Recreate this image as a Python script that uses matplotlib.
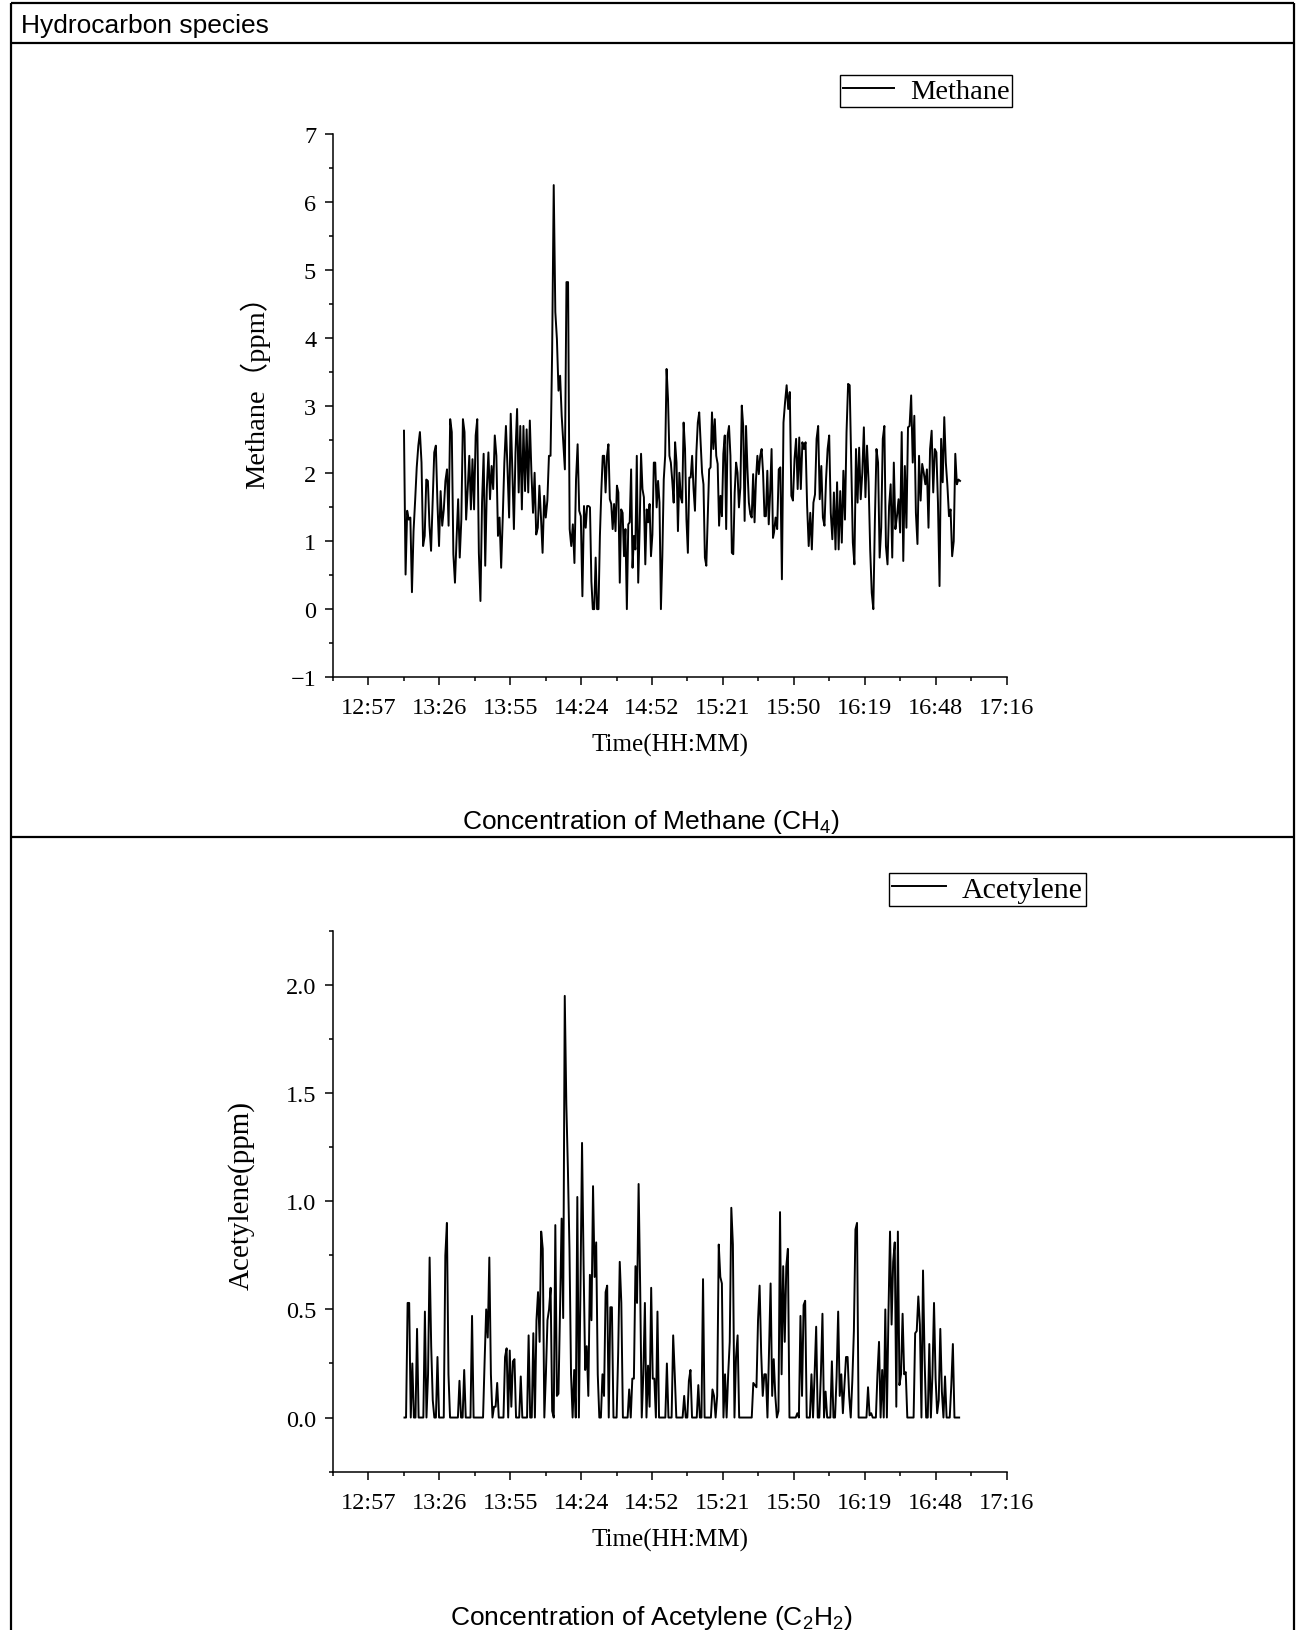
import numpy as np
import matplotlib
matplotlib.use("Agg")
import matplotlib.pyplot as plt
from matplotlib.lines import Line2D
from matplotlib.ticker import FixedLocator, FixedFormatter, MultipleLocator

# ---------------- data ----------------
# Methane (ppm), read in three consecutive stretches of the record
methane_part1 = [
    2.63, 0.51, 1.45, 1.32, 1.35, 0.25, 1.15, 1.6, 2.09, 2.41,
    2.61, 2.16, 0.93, 1.08, 1.91, 1.89, 1.23, 0.86, 1.57, 2.31,
    2.41, 1.57, 0.93, 1.74, 1.23, 1.47, 1.89, 2.06, 1.23, 2.8,
    2.61, 0.81, 0.39, 1.03, 1.62, 0.76, 1.32, 2.8, 2.61, 1.32,
    1.77, 2.26, 1.47, 2.21, 1.47, 2.56, 2.8, 0.83, 0.12, 1.57,
    2.29, 0.64, 1.77, 2.31, 1.62, 2.11, 1.77, 2.56, 2.26, 1.08,
    1.35, 0.61, 1.35, 2.16, 2.7, 2.06, 1.35, 2.88, 2.06, 1.18,
    2.31, 2.95, 1.72, 2.7, 1.47, 2.7, 1.74, 2.65, 1.72, 2.78,
    2.01, 1.42, 2.01, 1.1, 1.2, 1.82, 1.35, 0.83, 1.67, 1.35,
    1.6, 2.26, 2.26, 3.79, 6.25, 4.38, 3.98, 3.22, 3.44, 2.85,
    2.46, 2.06, 4.82, 4.82, 1.18, 0.93, 1.25, 0.68, 1.91, 2.43,
    1.45, 1.37, 0.19, 1.52,
]
methane_part2 = [
    1.2, 1.52, 1.52, 1.5, 0.41, 0.0, 0.0, 0.76, 0.0, 0.0,
    1.08, 1.74, 2.26, 2.26, 1.72, 2.26, 2.43, 1.62, 1.55, 1.18,
    1.55, 1.15, 1.82, 1.72, 0.39, 1.47, 1.42, 0.78, 1.18, 0.0,
    1.25, 1.28, 2.06, 0.61, 1.08, 0.88, 2.26, 0.39, 1.18, 2.29,
    1.77, 1.65, 0.66, 1.47, 1.28, 1.55, 0.78, 1.1, 2.16, 2.16,
    1.5, 1.89, 1.57, 0.0, 0.78, 1.91, 2.26, 3.54, 3.1, 2.26,
    2.16, 1.89, 1.57, 2.46, 2.16, 1.15, 2.01, 1.65, 1.57, 2.75,
    2.36, 1.32, 0.83, 1.94, 1.94, 2.26, 1.77, 1.45, 2.31, 2.75,
    2.9, 2.46, 2.01, 1.84, 0.76, 0.64, 1.37, 2.06, 2.09, 2.9,
    2.36, 2.8, 2.26, 2.14, 1.23, 1.67, 1.37, 2.29, 2.56, 1.18,
    2.56, 2.7, 2.26, 0.83, 0.81, 1.72, 2.16, 2.01, 1.5, 1.79,
    3.0, 2.7, 1.3, 2.7, 2.06, 1.57, 1.4, 1.35, 1.99, 1.28,
    1.91, 2.26, 1.99, 2.26, 2.36, 2.01, 1.37, 1.37, 2.04, 1.25,
    1.72, 2.36, 1.05,
]
methane_part3 = [
    1.13, 1.35, 1.18, 2.06, 2.09, 0.44, 2.75, 3.05, 3.3, 2.95,
    3.2, 1.67, 1.6, 2.21, 2.51, 1.77, 2.53, 1.77, 2.46, 2.36,
    2.46, 1.52, 0.93, 1.42, 0.88, 1.57, 1.69, 2.51, 2.7, 1.62,
    2.11, 1.35, 1.23, 1.91, 2.36, 2.56, 1.42, 1.03, 1.72, 0.88,
    1.87, 0.88, 1.74, 0.98, 2.04, 1.32, 2.61, 3.32, 3.3, 2.16,
    0.98, 0.66, 2.36, 1.57, 2.38, 1.62, 2.01, 2.68, 1.65, 2.41,
    1.87, 0.88, 0.24, 0.0, 1.32, 2.36, 2.16, 0.76, 1.2, 2.51,
    2.7, 0.93, 0.66, 1.52, 1.84, 0.76, 2.16, 1.18, 1.37, 1.62,
    1.13, 2.61, 0.71, 2.11, 1.2, 2.68, 2.7, 3.15, 2.16, 2.85,
    1.42, 0.96, 2.26, 1.6, 2.14, 2.01, 1.84, 2.06, 1.2, 2.36,
    2.63, 1.72, 2.36, 2.31, 1.57, 0.34, 2.51, 1.87, 2.83, 2.16,
    1.82, 1.37, 1.47, 0.78, 1.0, 2.29, 1.84, 1.91, 1.89,
]
# start / end clock time of each stretch
methane_part_times = [("13:12:06", "14:25:11"),
                      ("14:25:53", "15:41:55"),
                      ("15:42:20", "16:57:51")]

acetylene_ppm = [
    0, 0, 0.53, 0.53, 0, 0.25, 0, 0, 0.41, 0,
    0, 0, 0, 0.49, 0, 0.2, 0.74, 0.33, 0.08, 0,
    0, 0.28, 0, 0, 0, 0, 0.75, 0.9, 0.2, 0,
    0, 0, 0, 0, 0, 0.17, 0, 0, 0.22, 0,
    0, 0, 0, 0.47, 0, 0, 0, 0, 0, 0,
    0, 0.26, 0.5, 0.37, 0.74, 0.2, 0, 0.05, 0.05, 0.16,
    0, 0, 0, 0, 0.28, 0.32, 0, 0.31, 0.05, 0.26,
    0.27, 0, 0, 0, 0.19, 0, 0, 0, 0, 0.38,
    0, 0, 0.39, 0, 0.45, 0.58, 0.35, 0.86, 0.78, 0,
    0.2, 0.45, 0.5, 0.6, 0.03, 0, 0.89, 0.1, 0.11, 0.5,
    0.92, 0.46, 1.95, 1.45, 1.15, 0.78, 0.2, 0, 0.22, 0,
    1.02, 0, 0.6, 1.27, 0.7, 0.22, 0.33, 0.1, 0.66, 0.45,
    1.07, 0.65, 0.81, 0.2, 0, 0, 0.2, 0.1, 0.58, 0.61,
    0, 0.51, 0.51, 0, 0, 0, 0.3, 0.72, 0.53, 0,
    0, 0, 0, 0.13, 0, 0.18, 0.18, 0.7, 0.53, 1.08,
    0.6, 0, 0.2, 0.53, 0, 0.24, 0.05, 0.6, 0.18, 0.18,
    0, 0.49, 0, 0, 0, 0, 0, 0.25, 0, 0,
    0, 0.38, 0.2, 0, 0, 0, 0, 0, 0.1, 0,
    0, 0.17, 0.22, 0, 0, 0, 0, 0.15, 0, 0,
    0.64, 0, 0, 0, 0, 0, 0.13, 0.1, 0, 0.1,
    0.8, 0.65, 0.62, 0, 0.2, 0, 0.2, 0.35, 0.97, 0.8,
    0, 0.28, 0.38, 0, 0, 0, 0, 0, 0, 0,
    0, 0, 0.16, 0.15, 0.14, 0.45, 0.61, 0.3, 0.1, 0.2,
    0.2, 0, 0.3, 0.62, 0.1, 0.27, 0.1, 0, 0.03, 0.95,
    0.2, 0.7, 0.35, 0.7, 0.78, 0, 0, 0, 0, 0,
    0.02, 0, 0.47, 0.1, 0.52, 0.54, 0, 0, 0, 0.2,
    0, 0.2, 0.42, 0, 0, 0.2, 0.48, 0, 0.12, 0,
    0, 0, 0.26, 0, 0, 0.19, 0.49, 0.1, 0.2, 0.02,
    0.15, 0.28, 0.28, 0.1, 0, 0.17, 0.4, 0.87, 0.9, 0,
    0, 0, 0, 0, 0, 0.14, 0.01, 0.02, 0, 0,
    0, 0.2, 0.35, 0, 0.22, 0, 0.5, 0, 0.48, 0.86,
    0.43, 0.72, 0.81, 0.05, 0.86, 0.15, 0.2, 0.48, 0.2, 0.21,
    0, 0, 0, 0, 0, 0.39, 0.4, 0.56, 0.43, 0,
    0.68, 0.27, 0, 0, 0.34, 0, 0.2, 0.53, 0.18, 0.02,
    0.08, 0.41, 0.12, 0, 0.19, 0, 0, 0, 0.15, 0.34,
    0, 0, 0, 0,
]
acetylene_start, acetylene_end = "13:12:18", "16:57:30"

time_tick_days = [0.54, 0.56, 0.58, 0.60, 0.62, 0.64, 0.66, 0.68, 0.70, 0.72]
time_tick_labels = ["12:57", "13:26", "13:55", "14:24", "14:52",
                    "15:21", "15:50", "16:19", "16:48", "17:16"]
time_range_days = [0.53, 0.72]

methane_yticks = [-1, 0, 1, 2, 3, 4, 5, 6, 7]
methane_ylim = [-1, 7]
acetylene_yticks = [0.0, 0.5, 1.0, 1.5, 2.0]
acetylene_yticklabels = ["0.0", "0.5", "1.0", "1.5", "2.0"]
acetylene_ylim = [-0.25, 2.25]


def to_day(s):
    h, m, sec = (int(v) for v in s.split(":"))
    return (h * 3600 + m * 60 + sec) / 86400.0


methane_t, methane_ppm = [], []
for (t0, t1), part in zip(methane_part_times,
                          [methane_part1, methane_part2, methane_part3]):
    methane_t.extend(np.linspace(to_day(t0), to_day(t1), len(part)))
    methane_ppm.extend(part)
acetylene_t = np.linspace(to_day(acetylene_start), to_day(acetylene_end),
                          len(acetylene_ppm))

# ---------------- style ----------------
plt.rcParams["mathtext.fontset"] = "custom"
plt.rcParams["mathtext.rm"] = "Liberation Sans"
plt.rcParams["mathtext.it"] = "Liberation Sans"
SERIF = ["Liberation Serif", "Noto Sans CJK SC", "DejaVu Serif"]
SANS = ["Liberation Sans", "DejaVu Sans"]
W, H = 1302, 1631

fig = plt.figure(figsize=(W / 100, H / 100), dpi=100)
fig.patch.set_facecolor("white")


def fx(px):
    return px / W


def fy(py):
    return 1 - py / H


# table borders (the bottom edge of the table is cut off by the image)
border_kw = dict(color="black", lw=1.6, transform=fig.transFigure, solid_capstyle="butt")
L, R, T, B = 11, 1294, 3.5, 1631
for (x0, x1, y0, y1) in [
    (L, R, T, T), (L, L, T, B), (R, R, T, B),
    (L, R, 43.5, 43.5), (L, R, 837.5, 837.5),
]:
    fig.add_artist(Line2D([fx(x0), fx(x1)], [fy(y0), fy(y1)], **border_kw))

fig.text(fx(21), fy(25.5), "Hydrocarbon species", family=SANS, fontsize=19,
         ha="left", va="center")
fig.text(0.5, fy(822), "Concentration of Methane (CH$_4$)", family=SANS,
         fontsize=19, ha="center", va="center")
fig.text(0.5, fy(1618), "Concentration of Acetylene (C$_2$H$_2$)", family=SANS,
         fontsize=19, ha="center", va="center")

ax_left, ax_w = fx(332.8), fx(1006.7) - fx(332.8)
ax1 = fig.add_axes([ax_left, fy(678), ax_w, fy(135.2) - fy(678)])
ax2 = fig.add_axes([ax_left, fy(1472.6), ax_w, fy(932) - fy(1472.6)])

TICK_FS = 17.5


def style_axis(ax):
    for s in ("top", "right"):
        ax.spines[s].set_visible(False)
    for s in ("left", "bottom"):
        ax.spines[s].set_linewidth(1.1)
    ax.set_xlim(*time_range_days)
    ax.xaxis.set_major_locator(FixedLocator(time_tick_days))
    ax.xaxis.set_major_formatter(FixedFormatter(time_tick_labels))
    ax.xaxis.set_minor_locator(MultipleLocator(0.01))
    ax.tick_params(which="major", direction="out", length=6, width=1.1, pad=6,
                   labelsize=TICK_FS)
    ax.tick_params(axis="x", which="major", pad=8.5)
    ax.tick_params(which="minor", direction="out", length=3.2, width=1.1)
    for lab in ax.get_xticklabels() + ax.get_yticklabels():
        lab.set_family(SERIF)
    ax.set_xlabel("Time(HH:MM)", family=SERIF, fontsize=18)
    ax.xaxis.label.set_va("center")
    ax.xaxis.set_label_coords(0.5, -0.125)


LEG_KW = dict(loc="upper left", frameon=True, fancybox=False, edgecolor="black",
              framealpha=1, handlelength=1.8, handletextpad=0.55,
              borderpad=0.1, borderaxespad=0)

# Methane
ax1.plot(methane_t, methane_ppm, color="black", lw=1.4, label="Methane")
ax1.set_ylim(*methane_ylim)
ax1.yaxis.set_major_locator(FixedLocator(methane_yticks))
ax1.yaxis.set_minor_locator(MultipleLocator(0.5))
style_axis(ax1)
ax1.set_ylabel("Methane（ppm）", family=SERIF, fontsize=20.5)
ax1.yaxis.label.set_va("center")
ax1.yaxis.set_label_coords(-0.1154, 0.540)
leg1 = fig.legend(handles=ax1.get_lines(), bbox_to_anchor=(fx(840), fy(76)),
                  prop={"family": SERIF, "size": 20.5}, **LEG_KW)
leg1.get_frame().set_linewidth(1.0)

# Acetylene
ax2.plot(acetylene_t, acetylene_ppm, color="black", lw=1.4, label="Acetylene")
ax2.set_ylim(*acetylene_ylim)
ax2.yaxis.set_major_locator(FixedLocator(acetylene_yticks))
ax2.yaxis.set_major_formatter(FixedFormatter(acetylene_yticklabels))
ax2.yaxis.set_minor_locator(MultipleLocator(0.25))
style_axis(ax2)
ax2.set_ylabel("Acetylene(ppm)", family=SERIF, fontsize=21)
ax2.yaxis.label.set_va("center")
ax2.yaxis.set_label_coords(-0.136, 0.513)
leg2 = fig.legend(handles=ax2.get_lines(), bbox_to_anchor=(fx(889), fy(874)),
                  prop={"family": SERIF, "size": 21.5}, **LEG_KW)
leg2.get_frame().set_linewidth(1.0)

fig.savefig("out.png", dpi=100, facecolor="white")
